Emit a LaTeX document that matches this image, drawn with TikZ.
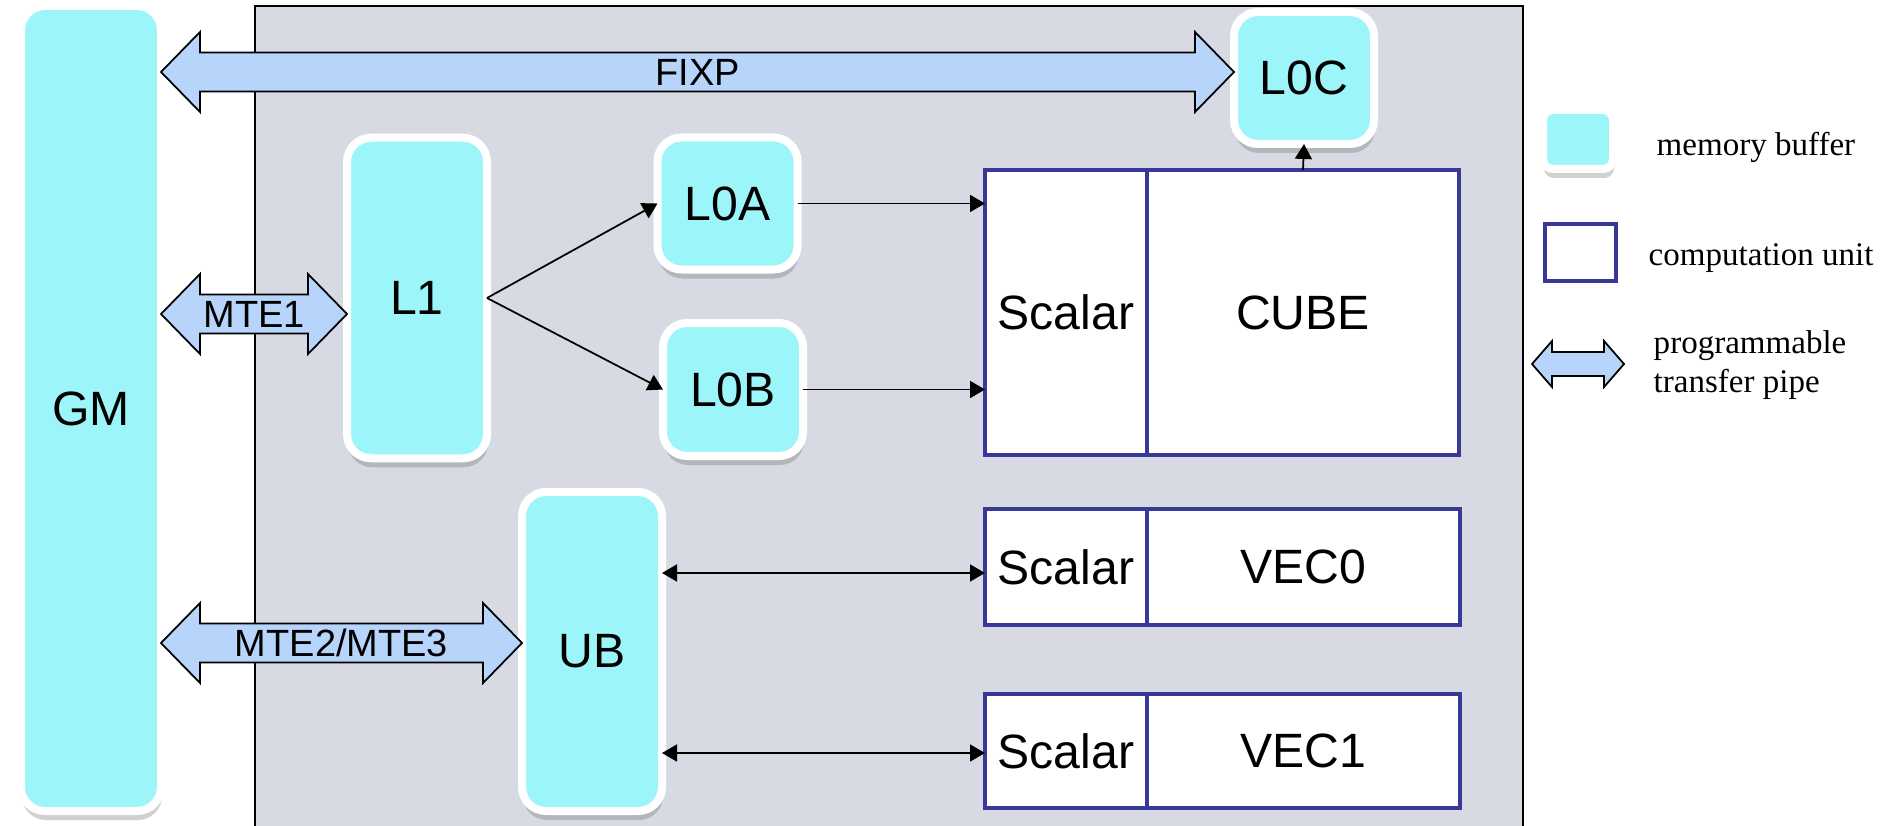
\documentclass[tikz,border=0pt]{standalone}
\usepackage{fontspec}
\setmainfont{Liberation Sans}
\newfontfamily\legendfont{Liberation Serif}
\usetikzlibrary{arrows.meta,calc,shadows}

\definecolor{bufcyan}{RGB}{155,245,249}
\definecolor{panelgray}{RGB}{215,218,226}
\definecolor{pipeblue}{RGB}{183,213,251}
\definecolor{unitblue}{RGB}{56,56,152}

\newcommand{\bigsans}{\fontsize{13.7}{16}\selectfont}
\newcommand{\midsans}{\fontsize{10.8}{13}\selectfont}
\newcommand{\legsize}{\fontsize{9.4}{11}\selectfont}

% #1 left tip, #2 right tip, #3 head length, #4 head half width, #5 shaft half width
\newcommand{\pipeshape}[5]{%
	\draw[pipe] let \p1=(#1), \p2=(#2) in
		(\x1,\y1) -- (\x1+#3,\y1+#4) -- (\x1+#3,\y1+#5)
		-- (\x2-#3,\y1+#5) -- (\x2-#3,\y1+#4) -- (\x2,\y1)
		-- (\x2-#3,\y1-#4) -- (\x2-#3,\y1-#5)
		-- (\x1+#3,\y1-#5) -- (\x1+#3,\y1-#4) -- cycle;}

\begin{document}
\begin{tikzpicture}[
	buffer/.style={rectangle, rounded corners=0.24cm, draw=white, line width=0.08cm, fill=bufcyan,
		minimum width=1.4cm, inner sep=0pt, outer sep=0pt, font=\bigsans,
		drop shadow={shadow xshift=0.01cm, shadow yshift=-0.09cm, opacity=0.3, fill=black!60}},
	unit/.style={rectangle, draw=unitblue, line width=0.04cm, fill=white, inner sep=0pt, outer sep=0pt, font=\bigsans},
	pipe/.style={draw=black, line width=0.5pt, fill=pipeblue},
	pipelabel/.style={inner sep=0pt, font=\midsans},
	link/.style={line width=0.5pt, -{Triangle[length=0.15cm,width=0.17cm]}},
	legendtxt/.style={inner sep=0pt, anchor=base west, font=\legendfont\legsize}]

		\path[use as bounding box, fill=white] (0,0) rectangle (19.03,-8.26);
		\draw[fill=panelgray, line width=0.6pt] (2.55,-0.06) rectangle (15.23,-8.5);

		\node[buffer, minimum height=8.05cm] (GM) at (0.91,-4.085) {GM};
		\node[buffer, minimum height=3.205cm] (L1) at (4.17,-2.98) {L1};
		\node[buffer, minimum height=1.32cm] (L0A) at (7.275,-2.035) {L0A};
		\node[buffer, minimum height=1.33cm] (L0B) at (7.33,-3.895) {L0B};
		\node[buffer, minimum height=1.32cm] (L0C) at (13.04,-0.78) {L0C};
		\node[buffer, minimum height=3.19cm] (UB) at (5.92,-6.515) {UB};

		\node[unit, minimum width=1.62cm, minimum height=2.85cm] (sc0) at (10.66,-3.125) {Scalar};
		\node[unit, minimum width=3.12cm, minimum height=2.85cm, anchor=west] (cube) at (sc0.east) {CUBE};
		\node[unit, minimum width=1.62cm, minimum height=1.16cm] (sc1) at (10.66,-5.67) {Scalar};
		\node[unit, minimum width=3.125cm, minimum height=1.16cm, anchor=west] (vec0) at (sc1.east) {VEC0};
		\node[unit, minimum width=1.62cm, minimum height=1.145cm] (sc2) at (10.66,-7.51) {Scalar};
		\node[unit, minimum width=3.125cm, minimum height=1.145cm, anchor=west] (vec1) at (sc2.east) {VEC1};

		\coordinate (fixpL) at (GM.east |- 0,-0.72);
		\coordinate (fixpR) at (L0C.west |- fixpL);
		\coordinate (mte1L) at (GM.east |- 0,-3.14);
		\coordinate (mte1R) at (L1.west |- mte1L);
		\coordinate (mte2L) at (GM.east |- 0,-6.43);
		\coordinate (mte2R) at (UB.west |- mte2L);

		\pipeshape{fixpL}{fixpR}{0.39cm}{0.40cm}{0.195cm}
		\pipeshape{mte1L}{mte1R}{0.39cm}{0.40cm}{0.195cm}
		\pipeshape{mte2L}{mte2R}{0.39cm}{0.40cm}{0.195cm}
		\node[pipelabel] (fixp) at ($(fixpL)!0.5!(fixpR)$) {FIXP};
		\node[pipelabel] (mte1) at ($(mte1L)!0.5!(mte1R)$) {MTE1};
		\node[pipelabel] (mte2) at ($(mte2L)!0.5!(mte2R)$) {MTE2/MTE3};

		\draw[link] (L1.east) -- (L0A.west);
		\draw[link] (L1.east) -- (L0B.west);
		\draw[link] (L0A.east) -- (L0A.east -| sc0.west);
		\draw[link] (L0B.east) -- (L0B.east -| sc0.west);
		\draw[link] (cube.north) -- (L0C.south);

		\coordinate (v0in) at ([yshift=-0.06cm]sc1.west);
		\coordinate (v1in) at ([yshift=-0.02cm]sc2.west);
		\draw[link, {Triangle[length=0.15cm,width=0.17cm]}-{Triangle[length=0.15cm,width=0.17cm]}] (v0in -| UB.east) -- (v0in);
		\draw[link, {Triangle[length=0.15cm,width=0.17cm]}-{Triangle[length=0.15cm,width=0.17cm]}] (v1in -| UB.east) -- (v1in);

		% legend
		\node[buffer, minimum width=0.70cm, minimum height=0.59cm, rounded corners=0.1cm] (legbuf) at (15.78,-1.395) {};
		\node[unit, minimum width=0.71cm, minimum height=0.57cm] (legunit) at (15.805,-2.525) {};
		\coordinate (legL) at (15.32,-3.64);
		\coordinate (legR) at (16.24,-3.64);
		\pipeshape{legL}{legR}{0.2cm}{0.23cm}{0.12cm}

		\node[legendtxt] (legbuftxt) at (16.56,-1.55) {memory buffer};
		\node[legendtxt] (legunittxt) at (16.48,-2.65) {computation unit};
		\node[legendtxt] (legpipetxt) at (16.53,-3.53) {programmable};
		\node[legendtxt] (legpipetxt2) at (16.53,-3.92) {transfer pipe};

	\end{tikzpicture}
\end{document}
